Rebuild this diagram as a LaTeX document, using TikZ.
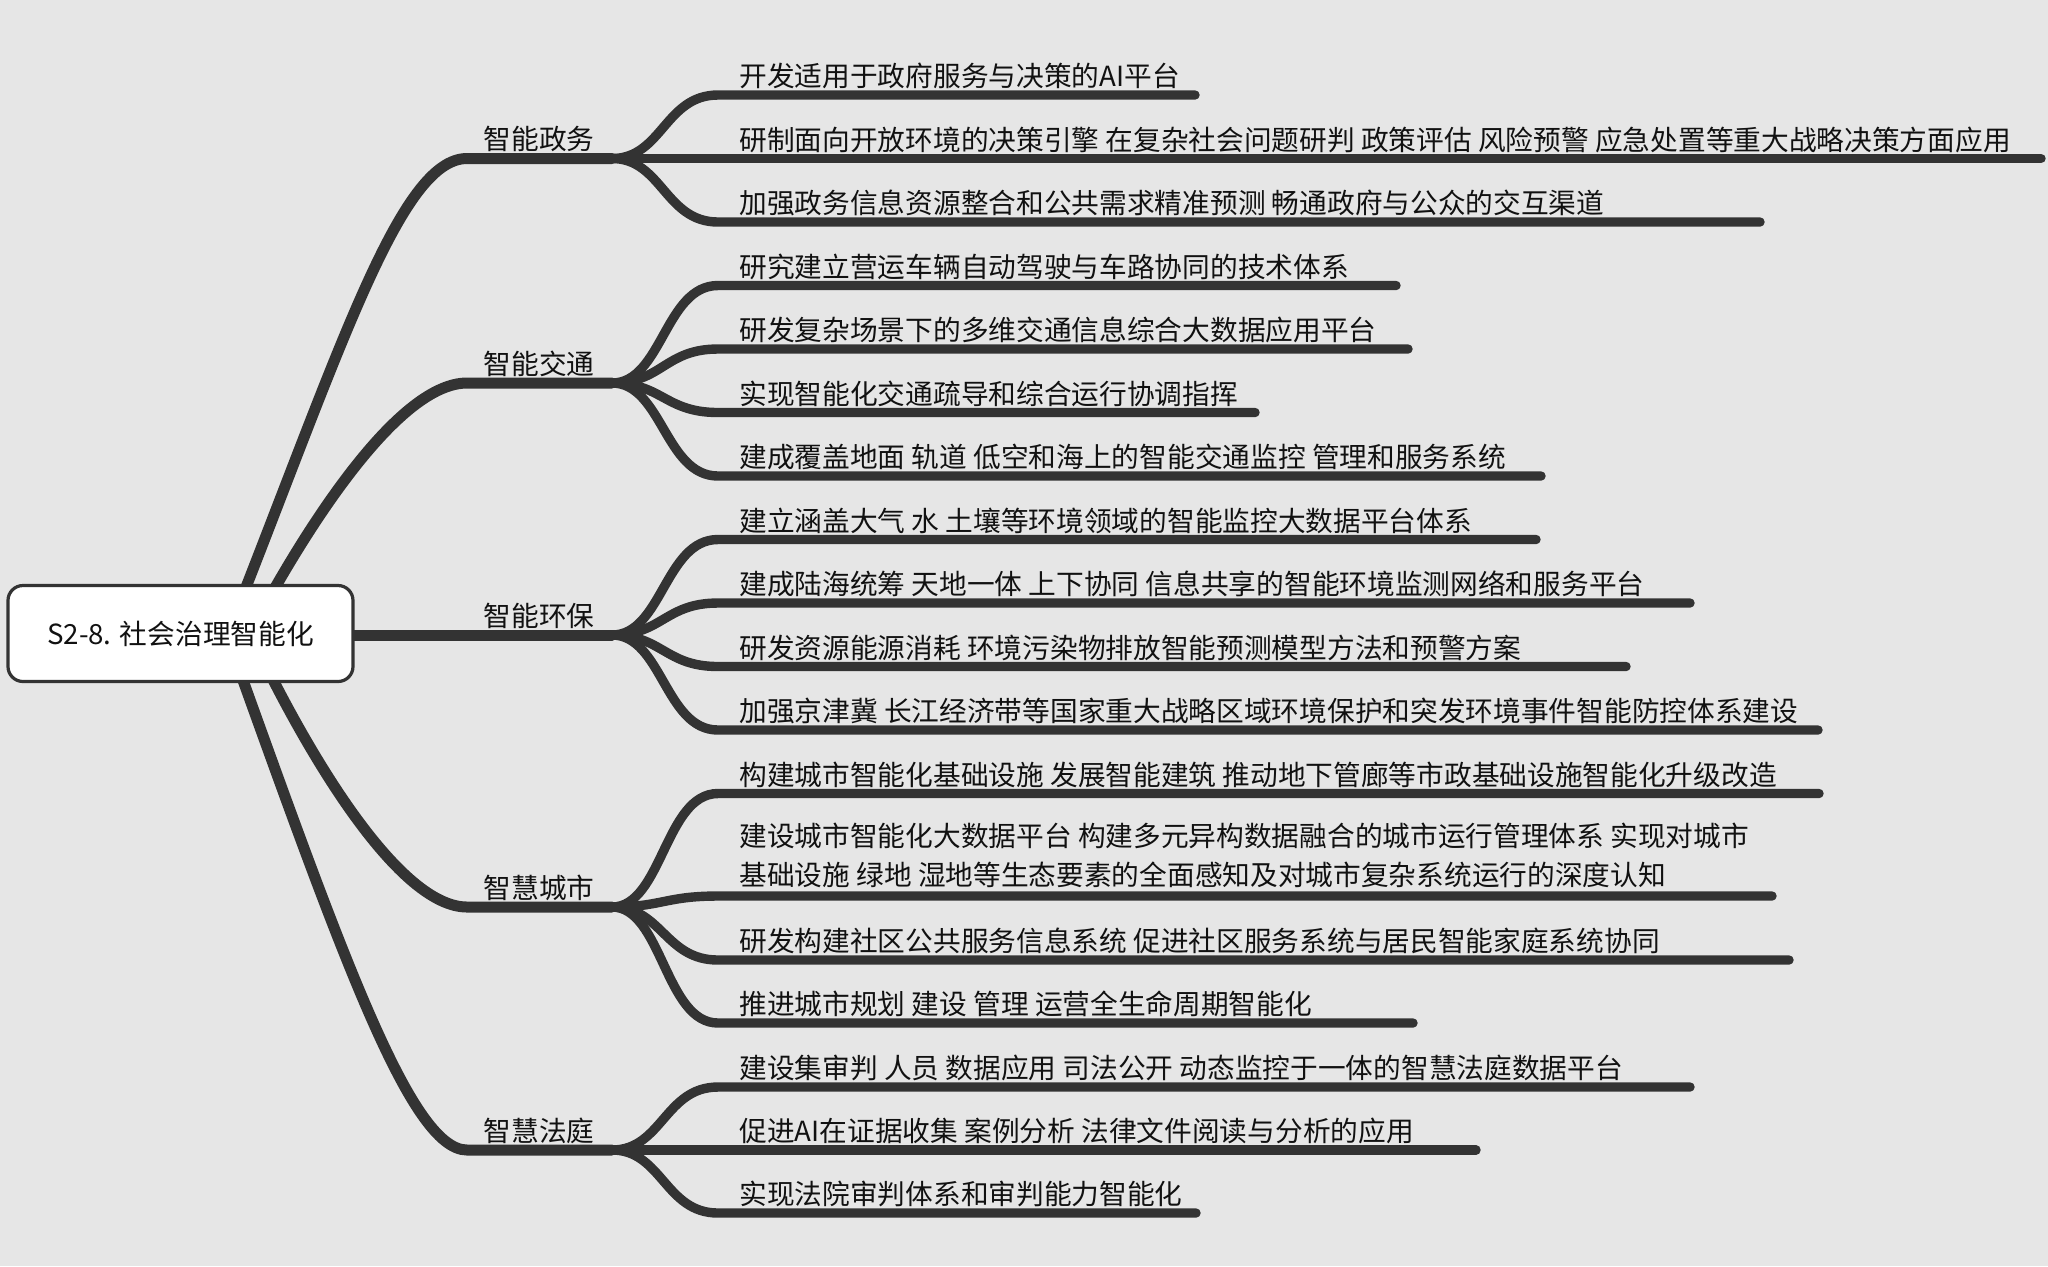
\documentclass[tikz,border=0pt]{standalone}
\usepackage{fontspec}
\setmainfont{Noto Sans CJK SC}
\definecolor{bgc}{HTML}{E6E6E6}
\definecolor{lnc}{HTML}{333333}
\definecolor{txc}{HTML}{111111}
\newcommand\tfont{\fontsize{13.85}{19.5}\selectfont}
\tikzset{
  mainline/.style={draw=lnc, line width=5.5pt, line cap=round, line join=round},
  leafline/.style={draw=lnc, line width=4.7pt, line cap=round, line join=round},
  leaftext/.style={anchor=base west, inner sep=0pt, font=\tfont, text=txc, align=left},
  branchtext/.style={anchor=base, inner sep=0pt, font=\tfont, text=txc},
  rootbox/.style={draw=lnc, fill=white, line width=1.6pt, rounded corners=7.5pt,
    minimum width=172.5pt, minimum height=48pt, inner sep=0pt, font=\tfont, text=txc}
}
\begin{document}
\begin{tikzpicture}[x=0.5pt,y=-0.5pt]
\fill[bgc] (0,0) rectangle (2048,1266);
\useasboundingbox (0,0) rectangle (2048,1266);

% origins of main branches (hidden behind the root box)
\coordinate (o1) at (228,633);
\coordinate (o2) at (250,633);
\coordinate (o3) at (240,635);
\coordinate (o4) at (250,633);
\coordinate (o5) at (226,633);

% branch lines
\coordinate (b1s) at (467,158.5); \coordinate (b1e) at (612,158.5);
\coordinate (b2s) at (467,383);   \coordinate (b2e) at (612,383);
\coordinate (b3s) at (467,635);   \coordinate (b3e) at (612,635);
\coordinate (b4s) at (467,907);   \coordinate (b4e) at (612,907);
\coordinate (b5s) at (467,1150);  \coordinate (b5e) at (612,1150);

\draw[mainline] (o1) .. controls +(112,-283) and +(-67,0) .. (b1s) -- (b1e);
\draw[mainline] (o2) .. controls +(60,-113) and +(-67,0) .. (b2s) -- (b2e);
\draw[mainline] (o3) -- (b3s) -- (b3e);
\draw[mainline] (o4) .. controls +(60,127) and +(-67,0) .. (b4s) -- (b4e);
\draw[mainline] (o5) .. controls +(114,317) and +(-57,0) .. (b5s) -- (b5e);

\node[branchtext] (n1) at (539,149.5) {智能政务};
\node[branchtext] (n2) at (539,374) {智能交通};
\node[branchtext] (n3) at (539,626) {智能环保};
\node[branchtext] (n4) at (539,898) {智慧城市};
\node[branchtext] (n5) at (539,1141) {智慧法庭};

% leaf connectors: branch / line y / line end x
\foreach \b/\y/\e [count=\i] in {
 1/95/1195, 1/158.5/2041, 1/222/1760,
 2/285.5/1396, 2/349/1408, 2/412.5/1255, 2/476/1541,
 3/539.5/1536, 3/603/1690, 3/666.5/1626, 3/730/1818,
 4/793.5/1819, 4/896/1772, 4/960/1789, 4/1023/1413,
 5/1087/1690, 5/1150/1476, 5/1213/1196}
{
  \coordinate (l\i s) at (718,\y);
  \coordinate (l\i e) at (\e,\y);
  \draw[leafline] (b\b e) .. controls +(50,0) and +(-53,0) .. (l\i s) -- (l\i e);
}
% leaf texts
\foreach \y/\t [count=\i] in {
 95/开发适用于政府服务与决策的AI平台,
 158.5/研制面向开放环境的决策引擎 在复杂社会问题研判 政策评估 风险预警 应急处置等重大战略决策方面应用,
 222/加强政务信息资源整合和公共需求精准预测 畅通政府与公众的交互渠道,
 285.5/研究建立营运车辆自动驾驶与车路协同的技术体系,
 349/研发复杂场景下的多维交通信息综合大数据应用平台,
 412.5/实现智能化交通疏导和综合运行协调指挥,
 476/建成覆盖地面 轨道 低空和海上的智能交通监控 管理和服务系统,
 539.5/建立涵盖大气 水 土壤等环境领域的智能监控大数据平台体系,
 603/建成陆海统筹 天地一体 上下协同 信息共享的智能环境监测网络和服务平台,
 666.5/研发资源能源消耗 环境污染物排放智能预测模型方法和预警方案,
 730/加强京津冀 长江经济带等国家重大战略区域环境保护和突发环境事件智能防控体系建设,
 793.5/构建城市智能化基础设施 发展智能建筑 推动地下管廊等市政基础设施智能化升级改造,
 960/研发构建社区公共服务信息系统 促进社区服务系统与居民智能家庭系统协同,
 1023/推进城市规划 建设 管理 运营全生命周期智能化,
 1087/建设集审判 人员 数据应用 司法公开 动态监控于一体的智慧法庭数据平台,
 1150/促进AI在证据收集 案例分析 法律文件阅读与分析的应用,
 1213/实现法院审判体系和审判能力智能化}
{
  \node[leaftext] (t\i) at (739,\y-8.5) {\t};
}
\node[leaftext] (t2line) at (739,885.5) {建设城市智能化大数据平台 构建多元异构数据融合的城市运行管理体系 实现对城市\\基础设施 绿地 湿地等生态要素的全面感知及对城市复杂系统运行的深度认知};

\node[rootbox] (root) at (180.5,633.5) {S2-8. 社会治理智能化};
\end{tikzpicture}
\end{document}
